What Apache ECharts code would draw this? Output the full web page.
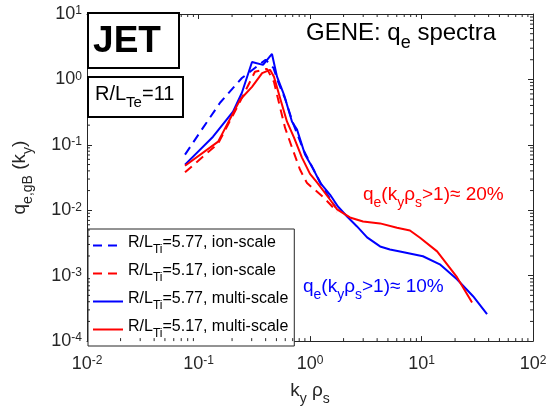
<!DOCTYPE html>
<html>
<head>
<meta charset="utf-8">
<script src="https://cdn.jsdelivr.net/npm/echarts@6/dist/echarts.min.js"></script>
<style>
  html, body { margin: 0; padding: 0; background: #fff; }
  #main { width: 558px; height: 411px; }
</style>
</head>
<body>
<div id="main"></div>
<script>
var FONT = 'Liberation Sans, Arial, Helvetica, sans-serif';

// k_y rho_s and q_e,gB
var kBlueIon = [0.0757, 0.110, 0.156, 0.245, 0.40, 0.47, 0.52, 0.60, 0.70, 0.87, 1.06, 1.31, 1.70];
var qBlueIon = [0.071, 0.183, 0.44, 1.05, 2.0, 1.5, 0.9, 0.50, 0.22, 0.085, 0.044, 0.022, 0.011];

var kRedIon = [0.0757, 0.150, 0.236, 0.321, 0.411, 0.475, 0.506, 0.597, 0.690, 0.813, 0.940, 1.31, 1.75];
var qRedIon = [0.038, 0.105, 0.46, 1.31, 1.45, 0.918, 0.582, 0.183, 0.0906, 0.0419, 0.026, 0.016, 0.0095];

var kBlueMulti = [0.0757, 0.135, 0.204, 0.245, 0.302, 0.379, 0.456, 0.506, 0.585, 0.69, 0.765, 0.902, 1.06, 1.23, 1.51, 1.78, 2.15, 2.64, 3.25, 4.25, 5.21, 6.41, 10.3, 14.6, 20.8, 29.0, 38.7];
var qBlueMulti = [0.0499, 0.133, 0.321, 0.625, 1.85, 1.67, 2.45, 1.10, 0.582, 0.226, 0.171, 0.071, 0.044, 0.0265, 0.0174, 0.0114, 0.00804, 0.00566, 0.00385, 0.0028, 0.00252, 0.00235, 0.00198, 0.00149, 0.00088, 0.000485, 0.000258];

var kRedMulti = [0.0757, 0.150, 0.236, 0.302, 0.372, 0.438, 0.475, 0.538, 0.622, 0.719, 0.847, 1.0, 1.16, 1.51, 1.75, 2.28, 2.99, 4.25, 6.03, 7.88, 9.7, 13.8, 20.8, 28.4];
var qRedMulti = [0.048, 0.112, 0.489, 0.77, 1.25, 1.40, 1.10, 0.525, 0.226, 0.129, 0.0638, 0.036, 0.0265, 0.0146, 0.0103, 0.00776, 0.00675, 0.0063, 0.0054, 0.0049, 0.0038, 0.00235, 0.00095, 0.00039];

var legendNames = ['5.77, ion-scale', '5.17, ion-scale', '5.77, multi-scale', '5.17, multi-scale'];

var xTicks = [0.01, 0.1, 1, 10, 100];
var xTickLabels = ['-2', '-1', '0', '1', '2'];
var yTicks = [0.0001, 0.001, 0.01, 0.1, 1, 10];
var yTickLabels = ['-4', '-3', '-2', '-1', '0', '1'];
var minorSteps = [2, 3, 4, 5, 6, 7, 8, 9];

var X_MIN = 0.01, X_MAX = 100, Y_MIN = 0.0001, Y_MAX = 10;

function zip(k, q) {
    return k.map(function (v, i) { return [v, q[i]]; });
}

// minor tick values between the decades
function minorsOf(ticks) {
    var out = [];
    for (var i = 0; i < ticks.length - 1; i++) {
        minorSteps.forEach(function (m) { out.push(ticks[i] * m); });
    }
    return out;
}

// text with subscripts: all tokens same box height, shift done with padding
function subRich(fs, color) {
    var sf = Math.round(fs * 0.75);
    var d = Math.round(fs * 0.42);
    var padS = d + Math.round((fs - sf) / 2);
    var padB = sf + padS - fs;
    return {
        b: { fontSize: fs, fontFamily: FONT, lineHeight: fs, padding: [0, 0, padB, 0], color: color, fill: color },
        s: { fontSize: sf, fontFamily: FONT, lineHeight: sf, padding: [padS, 0, 0, 0], color: color, fill: color }
    };
}
var supRich = {
    b: { fontSize: 18, fontFamily: FONT, lineHeight: 18, verticalAlign: 'bottom', color: '#262626' },
    p: { fontSize: 12, fontFamily: FONT, lineHeight: 12, verticalAlign: 'top', padding: [0, 0, 9, 0], color: '#262626' }
};
function tickFmt(ticks, labels) {
    return function (v) {
        for (var i = 0; i < ticks.length; i++) {
            if (Math.abs(v / ticks[i] - 1) < 1e-6) return '{b|10}{p|' + labels[i] + '}';
        }
        return '';
    };
}

var axisCommon = {
    type: 'log',
    logBase: 10,
    axisLine: { lineStyle: { color: '#262626', width: 1 } },
    axisTick: { inside: true, length: 5, lineStyle: { color: '#262626' } },
    minorTick: { show: false },
    splitLine: { show: false }
};

var tickStyle = { stroke: '#262626', lineWidth: 1 };
function xMinorTick(params, api) {
    var b = api.coord([api.value(0), Y_MIN]);
    var t = api.coord([api.value(0), Y_MAX]);
    return { type: 'group', children: [
        { type: 'line', shape: { x1: b[0], y1: b[1], x2: b[0], y2: b[1] - 3 }, style: tickStyle },
        { type: 'line', shape: { x1: t[0], y1: t[1], x2: t[0], y2: t[1] + 3 }, style: tickStyle }
    ] };
}
function yMinorTick(params, api) {
    var l = api.coord([X_MIN, api.value(1)]);
    var r = api.coord([X_MAX, api.value(1)]);
    return { type: 'group', children: [
        { type: 'line', shape: { x1: l[0], y1: l[1], x2: l[0] + 3, y2: l[1] }, style: tickStyle },
        { type: 'line', shape: { x1: r[0], y1: r[1], x2: r[0] - 3, y2: r[1] }, style: tickStyle }
    ] };
}

var lineColors = ['#0000ff', '#ff0000', '#0000ff', '#ff0000'];
var lineTypes = [[9, 6], [9, 6], 'solid', 'solid'];
var seriesData = [zip(kBlueIon, qBlueIon), zip(kRedIon, qRedIon), zip(kBlueMulti, qBlueMulti), zip(kRedMulti, qRedMulti)];

var lineSeries = legendNames.map(function (n, i) {
    return {
        name: n,
        type: 'line',
        xAxisIndex: 0, yAxisIndex: 0,
        data: seriesData[i],
        symbol: 'none',
        color: lineColors[i],
        lineStyle: { color: lineColors[i], width: 2, type: lineTypes[i] },
        z: 2 + i
    };
});
lineSeries.push({
    type: 'custom', name: 'xminor', clip: false, silent: true,
    data: minorsOf(xTicks).map(function (v) { return [v, Y_MIN]; }),
    encode: { x: 0, y: 1 }, renderItem: xMinorTick, z: 10
});
lineSeries.push({
    type: 'custom', name: 'yminor', clip: false, silent: true,
    data: minorsOf(yTicks).map(function (v) { return [X_MIN, v]; }),
    encode: { x: 0, y: 1 }, renderItem: yMinorTick, z: 10
});

var myChart = echarts.init(document.getElementById('main'), null, { renderer: 'canvas' });
var option = {
    animation: false,
    backgroundColor: '#fff',
    textStyle: { fontFamily: FONT },
    grid: { left: 87, right: 25, top: 14, bottom: 69 },
    xAxis: [
        Object.assign({}, axisCommon, {
            position: 'bottom', min: X_MIN, max: X_MAX,
            axisLabel: { margin: 14, formatter: tickFmt(xTicks, xTickLabels), rich: supRich },
            name: '{b|k}{s|y}{b| \u03c1}{s|s}', nameLocation: 'middle', nameGap: 40,
            nameTextStyle: { rich: subRich(19, '#262626') }
        }),
        Object.assign({}, axisCommon, {
            position: 'top', min: X_MIN, max: X_MAX, axisLabel: { show: false }
        })
    ],
    yAxis: [
        Object.assign({}, axisCommon, {
            position: 'left', min: Y_MIN, max: Y_MAX,
            axisLabel: { margin: 5, formatter: tickFmt(yTicks, yTickLabels), rich: supRich },
            name: '{b|q}{s|e,gB}{b| (k}{s|y}{b|)}', nameLocation: 'middle', nameGap: 55, nameRotate: 90,
            nameTextStyle: { rich: subRich(19, '#262626') }
        }),
        Object.assign({}, axisCommon, {
            position: 'right', min: Y_MIN, max: Y_MAX, axisLabel: { show: false }
        })
    ],
    legend: {
        orient: 'vertical',
        left: 88, top: 229,
        padding: [6, 6, 6, 4],
        itemGap: 7,
        itemWidth: 30, itemHeight: 14,
        backgroundColor: '#fff',
        borderColor: '#262626', borderWidth: 1, borderRadius: 0,
        data: legendNames,
        itemStyle: { opacity: 0 },
        formatter: function (n) { return '{b|R/L}{s|Ti}{b|=' + n + '}'; },
        textStyle: { color: '#000', rich: subRich(16, '#000') }
    },
    series: lineSeries,
    graphic: [
        { type: 'rect', z: 100, shape: { x: 88, y: 13, width: 91, height: 55 },
          style: { fill: '#fff', stroke: '#000', lineWidth: 2 } },
        { type: 'text', z: 101, style: { text: 'JET', x: 127, y: 42, align: 'center', verticalAlign: 'middle',
          font: 'bold 37px ' + FONT, fill: '#000' } },
        { type: 'rect', z: 100, shape: { x: 88, y: 77, width: 95, height: 40 },
          style: { fill: '#fff', stroke: '#000', lineWidth: 2 } },
        { type: 'text', z: 101, left: 95, top: 84,
          style: { text: '{b|R/L}{s|Te}{b|=11}', rich: subRich(20, '#000'), fill: '#000', font: '20px ' + FONT } },
        { type: 'text', z: 101, left: 306, top: 21,
          style: { text: '{b|GENE: q}{s|e}{b| spectra}', rich: subRich(24, '#000'), fill: '#000', font: '24px ' + FONT } },
        { type: 'text', z: 101, left: 363, top: 185,
          style: { text: '{b|q}{s|e}{b|(k}{s|y}{b|\u03c1}{s|s}{b|>1)\u2248 20%}', rich: subRich(19, '#ff0000'), fill: '#ff0000', font: '19px ' + FONT } },
        { type: 'text', z: 101, left: 303, top: 277,
          style: { text: '{b|q}{s|e}{b|(k}{s|y}{b|\u03c1}{s|s}{b|>1)\u2248 10%}', rich: subRich(19, '#0000ff'), fill: '#0000ff', font: '19px ' + FONT } }
    ]
};
if (option && typeof option === 'object') {
    myChart.setOption(option, true);
}
</script>
</body>
</html>
